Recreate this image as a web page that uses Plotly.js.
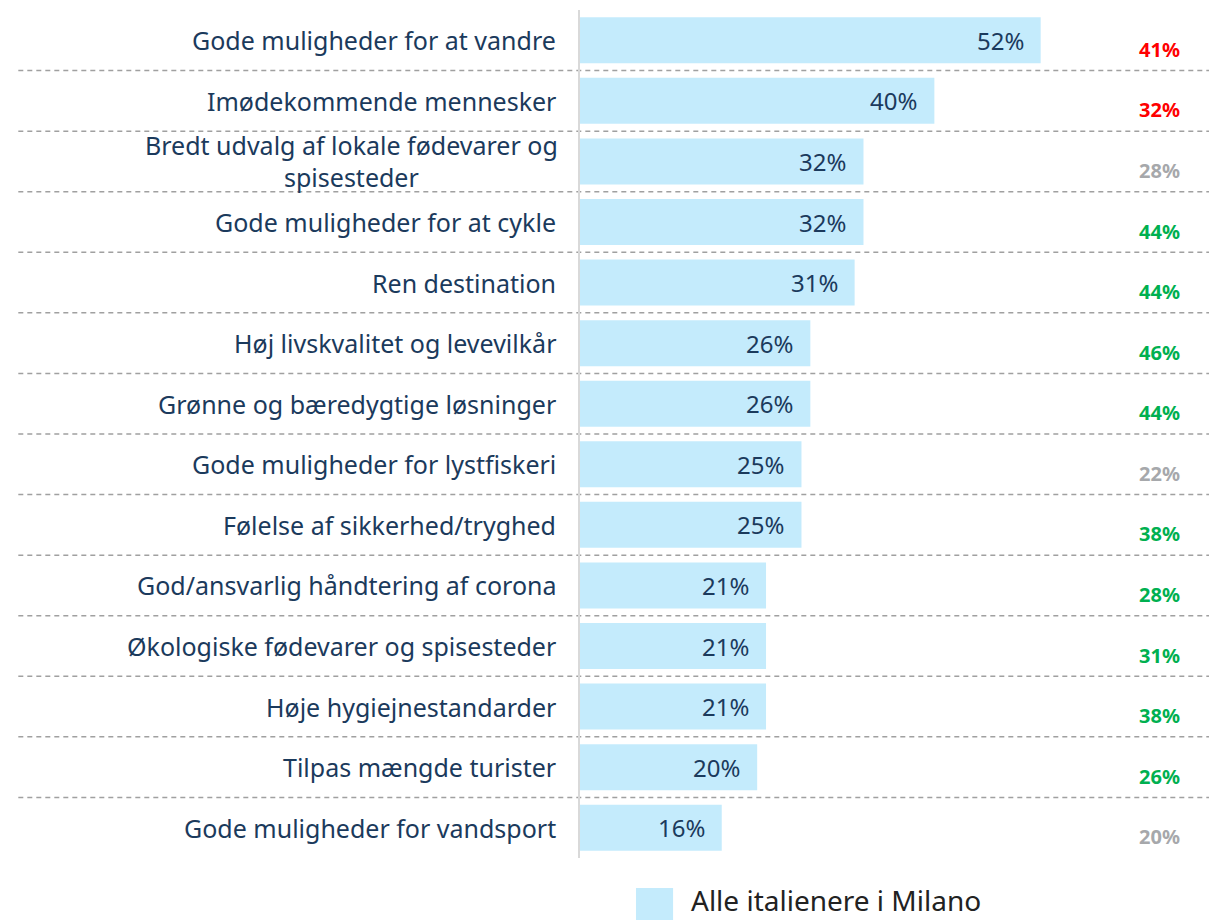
<!DOCTYPE html>
<html>
<head>
<meta charset="utf-8">
<script src="https://cdn.plot.ly/plotly-3.0.1.min.js"></script>
<style>
  html, body { margin: 0; padding: 0; background: #fff; }
  #chart { width: 1209px; height: 920px; }
</style>
</head>
<body>
<div id="chart"></div>
<script>
// Categories, top to bottom
const categories = [
  'Gode muligheder for at vandre',
  'Imødekommende mennesker',
  'Bredt udvalg af lokale fødevarer og<br>spisesteder',
  'Gode muligheder for at cykle',
  'Ren destination',
  'Høj livskvalitet og levevilkår',
  'Grønne og bæredygtige løsninger',
  'Gode muligheder for lystfiskeri',
  'Følelse af sikkerhed/tryghed',
  'God/ansvarlig håndtering af corona',
  'Økologiske fødevarer og spisesteder',
  'Høje hygiejnestandarder',
  'Tilpas mængde turister',
  'Gode muligheder for vandsport'
];

// Alle italienere i Milano (%)
const milanoValues = [52, 40, 32, 32, 31, 26, 26, 25, 25, 21, 21, 21, 20, 16];

// Comparison column on the right (%)
const compareValues = [41, 32, 28, 44, 44, 46, 44, 22, 38, 28, 31, 38, 26, 20];
// 'down' = red, 'same' = grey, 'up' = green
const compareStatus = ['down', 'down', 'same', 'up', 'up', 'up', 'up', 'same', 'up', 'up', 'up', 'up', 'up', 'same'];

const statusColors = { down: '#FF0000', same: '#A6A8AB', up: '#00B050' };
const navy = '#1B3A5C';
const fontFamily = '"Noto Sans", sans-serif';
const labelSize = 25;

// measure text width so wrapped labels can be centred under their first line
const ctx = document.createElement('canvas').getContext('2d');
ctx.font = labelSize + 'px "Noto Sans"';

const barTrace = {
  type: 'bar',
  orientation: 'h',
  x: milanoValues,
  y: categories,
  name: 'Alle italienere i Milano',
  marker: { color: '#C4EBFC' },
  hoverinfo: 'skip',
  showlegend: false
};

const annotations = [];

// Category labels
categories.forEach(c => {
  const lines = c.split('<br>');
  if (lines.length === 1) {
    annotations.push({
      x: 0, xref: 'paper', y: c, yref: 'y',
      xanchor: 'right', xshift: -22,
      text: c, showarrow: false,
      font: { family: fontFamily, size: labelSize, color: navy }
    });
  } else {
    const w = ctx.measureText(lines[0]).width;
    const step = 32;
    lines.forEach((ln, k) => {
      annotations.push({
        x: 0, xref: 'paper', y: c, yref: 'y',
        xanchor: 'center', xshift: -22 - w / 2,
        yshift: ((lines.length - 1) / 2 - k) * step,
        text: ln, showarrow: false, borderpad: 0,
        font: { family: fontFamily, size: labelSize, color: navy }
      });
    });
  }
});

// Value labels inside bar ends
milanoValues.forEach((v, i) => {
  annotations.push({
    x: v, xref: 'x', y: categories[i], yref: 'y',
    xanchor: 'right', xshift: -15,
    text: v + '%', showarrow: false,
    font: { family: fontFamily, size: 24, color: navy }
  });
});

// Comparison column
compareValues.forEach((v, i) => {
  annotations.push({
    x: 0.922, xref: 'paper', y: categories[i], yref: 'y',
    xanchor: 'center', yshift: -9,
    text: '<b>' + v + '%</b>', showarrow: false,
    font: { family: fontFamily, size: 20, color: statusColors[compareStatus[i]] }
  });
});

// Legend text
annotations.push({
  x: 0.175, xref: 'paper', y: -0.0495, yref: 'paper',
  xanchor: 'left', yanchor: 'middle', borderpad: 0,
  text: 'Alle italienere i Milano', showarrow: false,
  font: { family: fontFamily, size: 28, color: '#222222' }
});

// Dashed separators between rows
const shapes = [];
for (let i = 0; i < categories.length - 1; i++) {
  shapes.push({
    type: 'line', xref: 'paper', yref: 'y',
    x0: -0.893, x1: 1, y0: i + 0.5, y1: i + 0.5,
    line: { color: '#A0A0A0', width: 1.5, dash: '5px,4px' },
    layer: 'below'
  });
}
// Legend swatch
shapes.push({
  type: 'rect', xref: 'paper', yref: 'paper',
  x0: 0.089, x1: 0.148, y0: -0.0354, y1: -0.08,
  fillcolor: '#C4EBFC', line: { width: 0 }
});

const layout = {
  width: 1209,
  height: 920,
  margin: { l: 580, r: 0, t: 10, b: 62 },
  paper_bgcolor: '#FFFFFF',
  plot_bgcolor: '#FFFFFF',
  font: { family: fontFamily },
  bargap: 0.24,
  xaxis: {
    range: [0, 71],
    showgrid: false,
    zeroline: false,
    showticklabels: false,
    ticks: '',
    fixedrange: true
  },
  yaxis: {
    autorange: 'reversed',
    showgrid: false,
    zeroline: false,
    showticklabels: false,
    ticks: '',
    showline: true,
    linecolor: '#D9D9D9',
    linewidth: 2,
    fixedrange: true
  },
  shapes: shapes,
  annotations: annotations,
  showlegend: false
};

Plotly.newPlot('chart', [barTrace], layout, { displayModeBar: false, staticPlot: true });
</script>
</body>
</html>
